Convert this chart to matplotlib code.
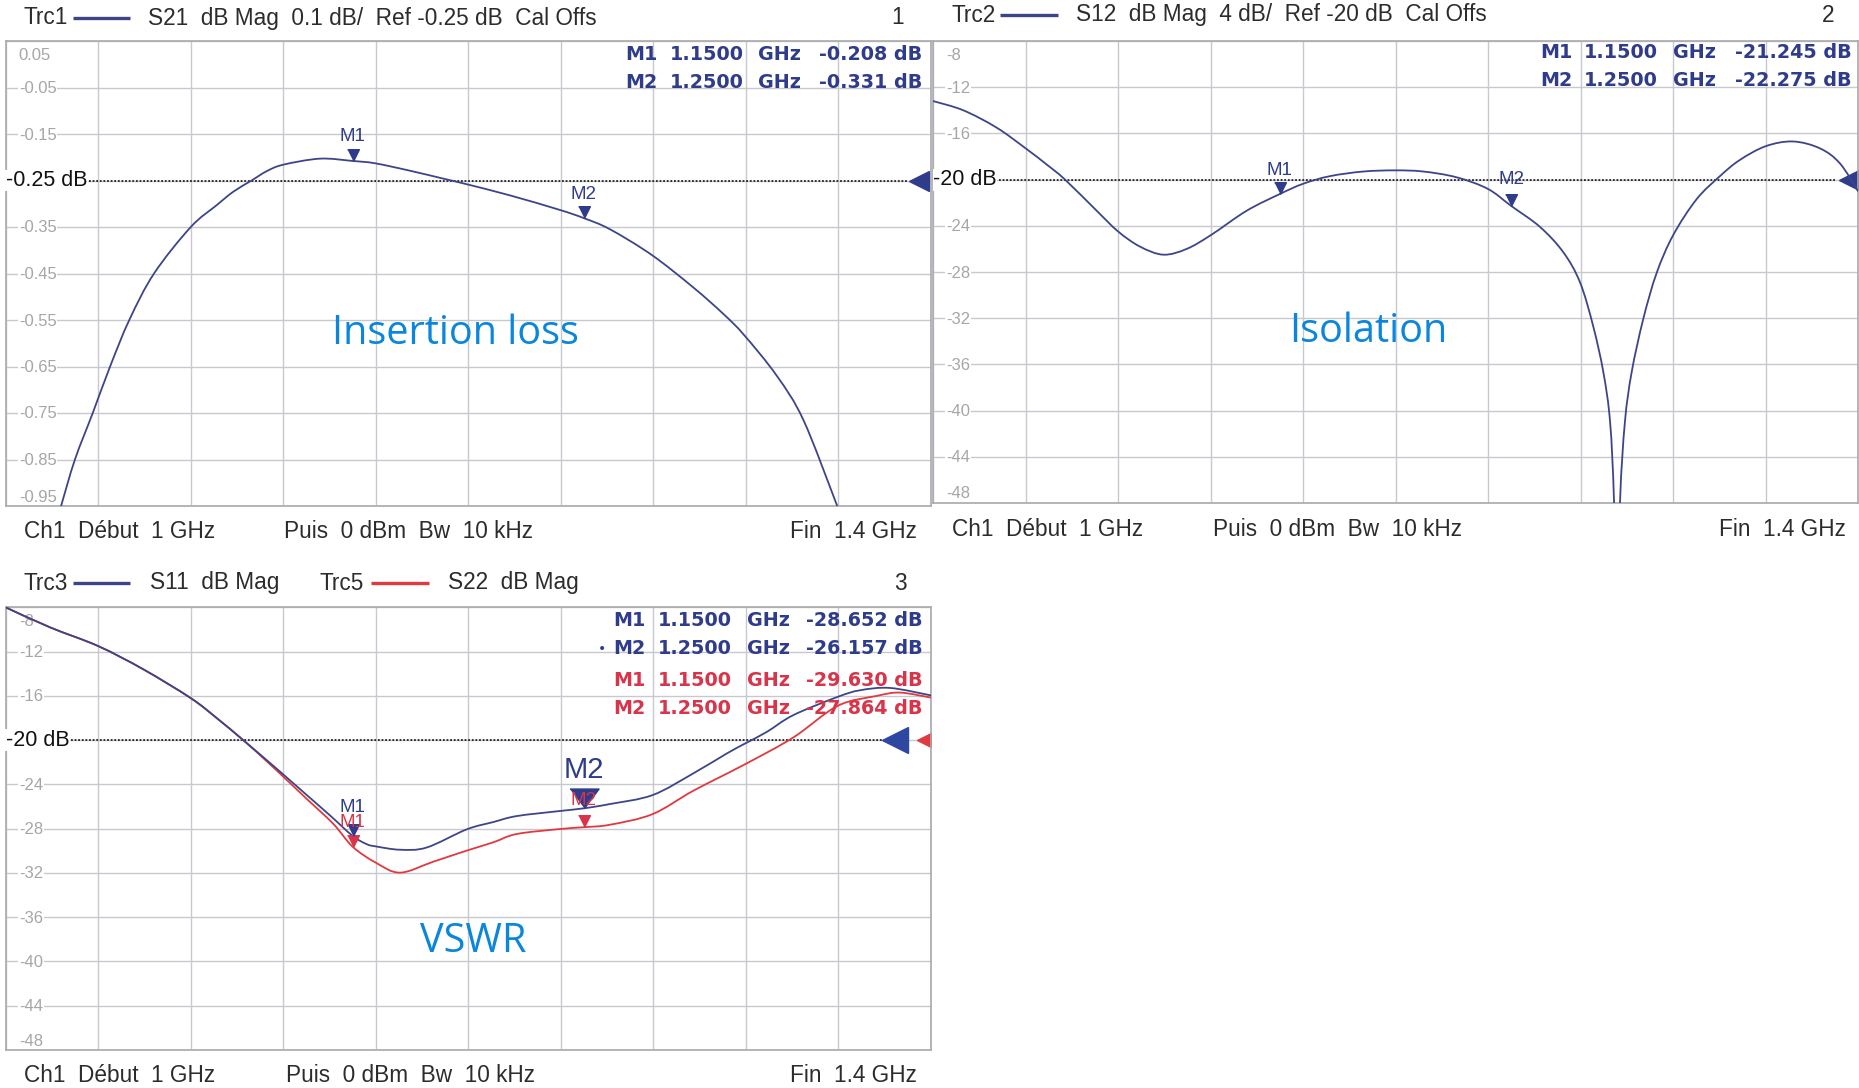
import numpy as np
import matplotlib
matplotlib.use("Agg")
import matplotlib.pyplot as plt
from matplotlib.lines import Line2D
from matplotlib.path import Path
from matplotlib.patches import PathPatch

# ---------------- data ----------------
freq_start, freq_stop = 1.0, 1.4
marker_freq = [1.15, 1.25]

# Trc1: S21 insertion loss (dB)
s21_freq = [1.0239, 1.0299, 1.0376, 1.0451, 1.0534, 1.0641, 1.0800, 1.0912, 1.0984,
            1.1063, 1.1128, 1.1200, 1.1359, 1.1500, 1.1597, 1.1748, 1.1892, 1.1993,
            1.2180, 1.2394, 1.2500, 1.2613, 1.2793, 1.2973, 1.3103, 1.3192, 1.3334,
            1.3449, 1.3590, 1.3600]
s21_db = [-0.950, -0.850, -0.750, -0.650, -0.550, -0.450, -0.350, -0.303, -0.274,
          -0.250, -0.230, -0.216, -0.203, -0.208, -0.213, -0.229, -0.246, -0.258,
          -0.282, -0.313, -0.331, -0.355, -0.410, -0.480, -0.537, -0.582, -0.670,
          -0.765, -0.943, -0.957]
s21_markers = [-0.208, -0.331]

# Trc2: S12 isolation (dB)
s12_freq = [1.0000, 1.0131, 1.0275, 1.0401, 1.0492, 1.0571, 1.0708, 1.0801, 1.0895,
            1.0996, 1.1097, 1.1202, 1.1356, 1.1500, 1.1602, 1.1717, 1.1861, 1.1998,
            1.2120, 1.2264, 1.2399, 1.2500, 1.2625, 1.2726, 1.2798, 1.2855, 1.2899,
            1.2928, 1.2945, 1.2958, 1.2971, 1.2992, 1.3021, 1.3071, 1.3129, 1.3201,
            1.3302, 1.3403, 1.3489, 1.3602, 1.3720, 1.3836, 1.3922, 1.4000]
s12_db = [-13.2, -14.0, -15.5, -17.3, -18.7, -20.0, -22.7, -24.5, -25.8,
          -26.5, -26.0, -24.8, -22.7, -21.245, -20.35, -19.7, -19.3, -19.2,
          -19.3, -19.8, -20.8, -22.275, -24.1, -26.3, -28.9, -32.7, -36.7,
          -41.0, -47.9, -60.0, -47.9, -41.0, -36.7, -32.1, -28.1, -24.8,
          -21.7, -19.7, -18.3, -17.1, -16.7, -17.3, -18.6, -21.0]
s12_markers = [-21.245, -22.275]

# Trc3 / Trc5: S11 and S22 return loss (dB)
s11_freq = [1.0000, 1.0191, 1.0400, 1.0595, 1.0800, 1.0912, 1.1027, 1.1128, 1.1200,
            1.1301, 1.1402, 1.1500, 1.1561, 1.1600, 1.1705, 1.1820, 1.1993, 1.2108,
            1.2209, 1.2396, 1.2500, 1.2613, 1.2797, 1.2973, 1.3118, 1.3197, 1.3291,
            1.3405, 1.3597, 1.3694, 1.3824, 1.4000]
s11_db = [-8.0, -9.8, -11.5, -13.6, -16.2, -18.0, -20.0, -21.8, -23.1,
          -24.95, -26.8, -28.652, -29.4, -29.6, -29.9, -29.7, -28.06, -27.4,
          -26.86, -26.4, -26.157, -25.77, -24.96, -23.0, -21.2, -20.3, -19.25,
          -17.74, -16.09, -15.49, -15.28, -15.95]
s11_markers = [-28.652, -26.157]

s22_freq = [1.0000, 1.0191, 1.0400, 1.0595, 1.0800, 1.0912, 1.1027, 1.1128, 1.1200,
            1.1301, 1.1417, 1.1500, 1.1600, 1.1705, 1.1849, 1.1993, 1.2108, 1.2209,
            1.2396, 1.2500, 1.2613, 1.2797, 1.2973, 1.3197, 1.3405, 1.3597, 1.3766,
            1.3867, 1.4000]
s22_db = [-8.0, -9.8, -11.5, -13.6, -16.2, -18.0, -20.0, -21.9, -23.3,
          -25.3, -27.58, -29.63, -31.07, -31.97, -30.98, -29.98, -29.23, -28.48,
          -28.03, -27.864, -27.64, -26.68, -24.57, -22.17, -19.76, -16.9, -16.0,
          -15.7, -16.15]
s22_markers = [-29.630, -27.864]

s21_ticks = [0.05, -0.05, -0.15, -0.25, -0.35, -0.45, -0.55, -0.65, -0.75, -0.85, -0.95]
db_ticks = [-8, -12, -16, -20, -24, -28, -32, -36, -40, -44, -48]

# ---------------- styling ----------------
W, H = 1859, 1088
NAVY = "#3d4589"
NAVY_TXT = "#2f3c8c"
RED = "#e0393f"
RED_TXT = "#d8344a"
GRID = "#c8c8d0"
TICK_TXT = "#a6a6a6"
HDR_TXT = "#2c2c2c"
LABEL_BLUE = "#0a86dc"
INSTR = "Liberation Sans"
TABLE = "DejaVu Sans"
CAPTION = "Open Sans"

fig = plt.figure(figsize=(W / 100, H / 100), dpi=100)
fig.patch.set_facecolor("white")


def px_rect(left, top, right, bottom):
    return [left / W, 1 - bottom / H, (right - left) / W, (bottom - top) / H]


def ftext(x, y, s, **kw):
    return fig.text(x / W, 1 - y / H, s, **kw)


def fline(x0, x1, y, color):
    fig.add_artist(Line2D([x0 / W, x1 / W], [1 - y / H, 1 - y / H],
                          color=color, lw=2.4, solid_capstyle="butt"))


def trace(ax, x, y, color, lw=1.3):
    """Draw a measured trace as a smooth curve passing through every sample."""
    pts = ax.transData.transform(np.column_stack([x, y]))
    n = len(pts)
    verts = [pts[0]]
    codes = [Path.MOVETO]
    for i in range(n - 1):
        p0 = pts[max(i - 1, 0)]
        p1 = pts[i]
        p2 = pts[i + 1]
        p3 = pts[min(i + 2, n - 1)]
        c1 = p1 + (p2 - p0) / 6.0
        c2 = p2 - (p3 - p1) / 6.0
        verts += [c1, c2, p2]
        codes += [Path.CURVE4] * 3
    verts = ax.transData.inverted().transform(np.array(verts))
    ax.add_patch(PathPatch(Path(verts, codes), fill=False, ec=color, lw=lw,
                           joinstyle="round", capstyle="round", zorder=3))


def setup_axes(rect, ticks, ref, ref_label, fmt, dotted_from):
    ax = fig.add_axes(rect)
    ax.set_xlim(freq_start, freq_stop)
    ax.set_ylim(min(ticks), max(ticks))
    ax.set_xticks(np.linspace(freq_start, freq_stop, 11))
    ax.set_yticks(ticks)
    ax.grid(True, color=GRID, lw=1.0)
    ax.set_axisbelow(True)
    ax.tick_params(length=0, labelbottom=False, labelleft=False)
    for sp in ax.spines.values():
        sp.set_color("#a9a9ae")
        sp.set_linewidth(1.2)
    ytr = ax.get_yaxis_transform()
    top, bottom = max(ticks), min(ticks)
    for t in ticks:
        if abs(t - ref) < 1e-9:
            continue
        dy = -14 if t == top else (9 if t == bottom else -1)
        ax.annotate(fmt(t), xy=(0, t), xycoords=ytr, xytext=(13, dy),
                    textcoords="offset pixels", ha="left", va="center",
                    fontsize=12, color=TICK_TXT, family=INSTR,
                    bbox=dict(fc="white", ec="none", pad=0.6))
    ax.text(0.0, ref, ref_label, transform=ytr, ha="left", va="center",
            fontsize=15.5, color="#111111", family=INSTR,
            bbox=dict(fc="white", ec="none", pad=0.3))
    ax.plot([dotted_from, 0.975], [ref, ref], transform=ytr, color="#222222",
            lw=1.3, ls=(0, (1, 1)))
    return ax


TRI_DOWN = [(-0.5, 1.0), (0.5, 1.0), (0.0, 0.0)]
TRI_DOWN_WIDE = [(-0.75, 1.0), (0.75, 1.0), (0.0, 0.0)]


def marker(ax, f, v, name, color, dy, size=17, verts=TRI_DOWN, fs=13.5):
    ax.plot([f], [v], marker=verts, ms=size, color=color, mec=color, ls="none",
            zorder=5)
    ax.annotate(name, xy=(f, v), xytext=(0, dy), textcoords="offset pixels",
                ha="center", va="center", fontsize=fs, color=color, family=INSTR,
                zorder=6)


def table(rows, cols):
    xm, xf, xg, xv = cols
    for y, name, fq, val, color in rows:
        kw = dict(fontsize=13.8, color=color, family=TABLE, fontweight="bold",
                  va="center")
        ftext(xm, y, name, ha="left", **kw)
        ftext(xf, y, f"{fq:.4f}", ha="left", **kw)
        ftext(xg, y, "GHz", ha="left", **kw)
        ftext(xv, y, f"{val:.3f} dB", ha="right", **kw)


hdr = dict(fontsize=16.3, color=HDR_TXT, family=INSTR, va="center")


def footer(y, x_ch, x_puis, x_fin):
    ftext(x_ch, y, "Ch1  Début  1 GHz", ha="left", **hdr)
    ftext(x_puis, y, "Puis  0 dBm  Bw  10 kHz", ha="left", **hdr)
    ftext(x_fin, y, "Fin  1.4 GHz", ha="right", **hdr)


# ---------------- panel 1: S21 ----------------
ax1 = setup_axes(px_rect(5.8, 41, 930.8, 506), s21_ticks, -0.25, "-0.25 dB",
                 lambda t: f"{t:.2f}", 0.09)
trace(ax1, s21_freq, s21_db, NAVY)
marker(ax1, marker_freq[0], s21_markers[0], "M1", NAVY_TXT, 24)
marker(ax1, marker_freq[1], s21_markers[1], "M2", NAVY_TXT, 24)
ax1.plot([0.987], [-0.25], marker="<", ms=15, color=NAVY_TXT,
         transform=ax1.get_yaxis_transform(), clip_on=False)
ax1.text(0.486, 0.37, "Insertion loss", transform=ax1.transAxes, ha="center",
         va="center", fontsize=28.5, color=LABEL_BLUE, family=CAPTION)
ftext(24, 18, "Trc1", ha="left", **hdr)
fline(73, 130, 18, NAVY)
ftext(148, 18, "S21  dB Mag  0.1 dB/  Ref -0.25 dB  Cal Offs", ha="left", **hdr)
ftext(898, 18, "1", ha="center", **hdr)
table([(55, "M1", marker_freq[0], s21_markers[0], NAVY_TXT),
       (83, "M2", marker_freq[1], s21_markers[1], NAVY_TXT)],
      (625, 670, 758, 922))
footer(532, 24, 284, 917)

# ---------------- panel 2: S12 ----------------
ax2 = setup_axes(px_rect(933, 41, 1858, 503), db_ticks, -20, "-20 dB",
                 lambda t: f"{t:d}", 0.071)
trace(ax2, s12_freq, s12_db, NAVY)
marker(ax2, marker_freq[0], s12_markers[0], "M1", NAVY_TXT, 23)
marker(ax2, marker_freq[1], s12_markers[1], "M2", NAVY_TXT, 26)
ax2.plot([0.99], [-20], marker="<", ms=15, color=NAVY_TXT,
         transform=ax2.get_yaxis_transform(), clip_on=False)
ax2.text(0.471, 0.37, "Isolation", transform=ax2.transAxes, ha="center",
         va="center", fontsize=28.5, color=LABEL_BLUE, family=CAPTION)
ftext(951, 15, "Trc2", ha="left", **hdr)
fline(1000, 1058, 15, NAVY)
ftext(1076, 15, "S12  dB Mag  4 dB/  Ref -20 dB  Cal Offs", ha="left", **hdr)
ftext(1828, 15, "2", ha="center", **hdr)
table([(53, "M1", marker_freq[0], s12_markers[0], NAVY_TXT),
       (80, "M2", marker_freq[1], s12_markers[1], NAVY_TXT)],
      (1540, 1584, 1673, 1852))
footer(530, 952, 1213, 1846)

# ---------------- panel 3: S11 / S22 ----------------
ax3 = setup_axes(px_rect(5.8, 607.4, 930.8, 1050), db_ticks, -20, "-20 dB",
                 lambda t: f"{t:d}", 0.071)
trace(ax3, s22_freq, s22_db, RED)
trace(ax3, s11_freq, s11_db, NAVY)
marker(ax3, marker_freq[0], s22_markers[0], "M1", RED_TXT, 24)
marker(ax3, marker_freq[0], s11_markers[0], "M1", NAVY_TXT, 28)
marker(ax3, marker_freq[1], s22_markers[1], "M2", RED_TXT, 27)
marker(ax3, marker_freq[1], s11_markers[1], "M2", NAVY_TXT, 38, size=28,
       verts=TRI_DOWN_WIDE, fs=21)
ytr3 = ax3.get_yaxis_transform()
ax3.plot([0.961], [-20], marker="<", ms=19, color="#2e47a0", transform=ytr3,
         clip_on=False)
ax3.plot([0.996], [-20], marker="<", ms=15, color=RED, transform=ytr3,
         clip_on=True)
ax3.text(0.505, 0.245, "VSWR", transform=ax3.transAxes, ha="center",
         va="center", fontsize=28.5, color=LABEL_BLUE, family=CAPTION)
ftext(24, 583, "Trc3", ha="left", **hdr)
fline(73, 130, 583, NAVY)
ftext(150, 583, "S11  dB Mag", ha="left", **hdr)
ftext(320, 583, "Trc5", ha="left", **hdr)
fline(371, 429, 583, RED)
ftext(448, 583, "S22  dB Mag", ha="left", **hdr)
ftext(900, 583, "3", ha="center", **hdr)
table([(621, "M1", marker_freq[0], s11_markers[0], NAVY_TXT),
       (649, "M2", marker_freq[1], s11_markers[1], NAVY_TXT),
       (680, "M1", marker_freq[0], s22_markers[0], RED_TXT),
       (708, "M2", marker_freq[1], s22_markers[1], RED_TXT)],
      (613, 658, 747, 923))
ftext(602, 649, "•", ha="center", fontsize=10, color=NAVY_TXT, family=TABLE,
      va="center")
footer(1075, 24, 286, 917)

fig.savefig("out.png", dpi=100, facecolor="white")
